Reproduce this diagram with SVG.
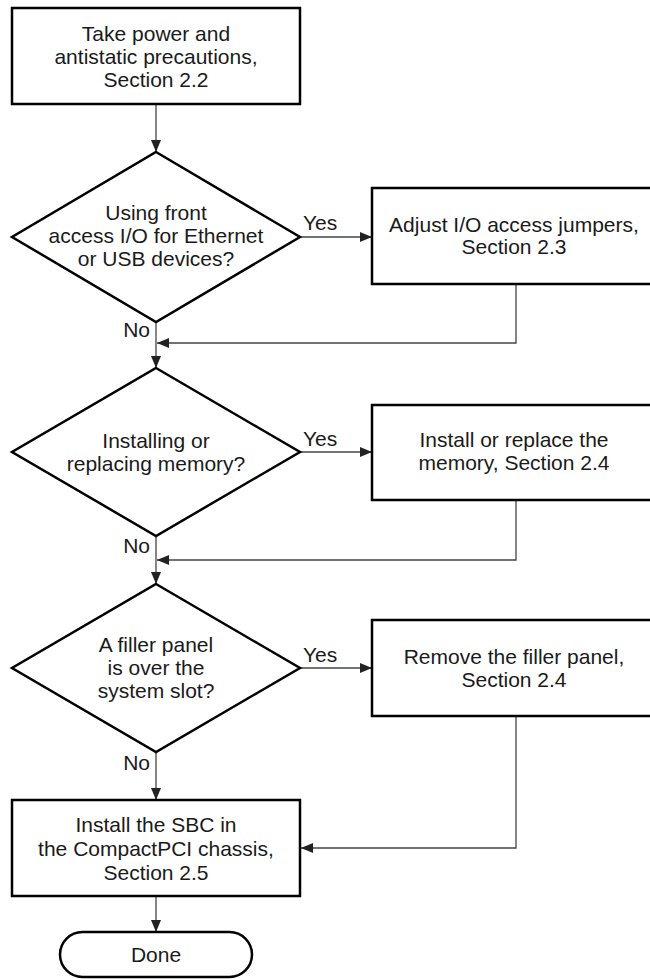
<svg xmlns="http://www.w3.org/2000/svg" width="650" height="979" viewBox="0 0 650 979">
<defs>
<marker id="arr" viewBox="0 0 12 10" refX="12" refY="5" markerWidth="12" markerHeight="10" markerUnits="userSpaceOnUse" orient="auto">
<path d="M0,0 L12,5 L0,10 Z" fill="#222"/>
</marker>
<style>
.box{fill:#fff;stroke:#000;stroke-width:2.5}
.t{font-family:"Liberation Sans",Arial,sans-serif;font-size:21px;fill:#1a1a1a;text-anchor:middle}
.l{font-family:"Liberation Sans",Arial,sans-serif;font-size:21px;fill:#1a1a1a}
.c{fill:none;stroke:#444;stroke-width:1.3}
</style>
</defs>
<rect width="650" height="979" fill="#fff"/>
<g id="connectors">
<path class="c" d="M156,104 V152" marker-end="url(#arr)"/>
<path class="c" d="M300,237 H372" marker-end="url(#arr)"/>
<path class="c" d="M516,284 V343 H157"  marker-end="url(#arr)"/>
<path class="c" d="M156,322 V368" marker-end="url(#arr)"/>
<path class="c" d="M300,452 H372" marker-end="url(#arr)"/>
<path class="c" d="M516,500 V560 H157" marker-end="url(#arr)"/>
<path class="c" d="M156,536 V584" marker-end="url(#arr)"/>
<path class="c" d="M300,668 H372" marker-end="url(#arr)"/>
<path class="c" d="M516,716 V848 H301" marker-end="url(#arr)"/>
<path class="c" d="M156,752 V800" marker-end="url(#arr)"/>
<path class="c" d="M156,896 V932" marker-end="url(#arr)"/>
<text class="l" x="303" y="230">Yes</text>
<text class="l" x="150" y="337" text-anchor="end">No</text>
<text class="l" x="303" y="446">Yes</text>
<text class="l" x="150" y="553" text-anchor="end">No</text>
<text class="l" x="303" y="662">Yes</text>
<text class="l" x="150" y="770" text-anchor="end">No</text>
</g>
<g id="start">
<rect class="box" x="12" y="8" width="288" height="96"/>
<text class="t" x="156" y="41">Take power and</text>
<text class="t" x="156" y="64">antistatic precautions,</text>
<text class="t" x="156" y="87">Section 2.2</text>
</g>
<g id="decision1">
<polygon class="box" points="156,152 300,237 156,322 12,237"/>
<text class="t" x="156" y="220">Using front</text>
<text class="t" x="156" y="243">access I/O for Ethernet</text>
<text class="t" x="156" y="266">or USB devices?</text>
</g>
<g id="jumpers">
<rect class="box" x="372" y="188" width="284" height="96"/>
<text class="t" x="514" y="232">Adjust I/O access jumpers,</text>
<text class="t" x="514" y="254">Section 2.3</text>
</g>
<g id="decision2">
<polygon class="box" points="156,368 300,452 156,536 12,452"/>
<text class="t" x="156" y="448">Installing or</text>
<text class="t" x="156" y="471">replacing memory?</text>
</g>
<g id="memory">
<rect class="box" x="372" y="405" width="284" height="95"/>
<text class="t" x="514" y="447">Install or replace the</text>
<text class="t" x="514" y="470">memory, Section 2.4</text>
</g>
<g id="decision3">
<polygon class="box" points="156,584 300,668 156,752 12,668"/>
<text class="t" x="156" y="652">A filler panel</text>
<text class="t" x="156" y="675">is over the</text>
<text class="t" x="156" y="698">system slot?</text>
</g>
<g id="filler">
<rect class="box" x="372" y="620" width="284" height="96"/>
<text class="t" x="514" y="664">Remove the filler panel,</text>
<text class="t" x="514" y="687">Section 2.4</text>
</g>
<g id="install">
<rect class="box" x="12" y="800" width="288" height="96"/>
<text class="t" x="156" y="832">Install the SBC in</text>
<text class="t" x="156" y="856">the CompactPCI chassis,</text>
<text class="t" x="156" y="880">Section 2.5</text>
</g>
<g id="done">
<rect class="box" x="60" y="932" width="192" height="45" rx="22.5"/>
<text class="t" x="156" y="962">Done</text>
</g>
</svg>
